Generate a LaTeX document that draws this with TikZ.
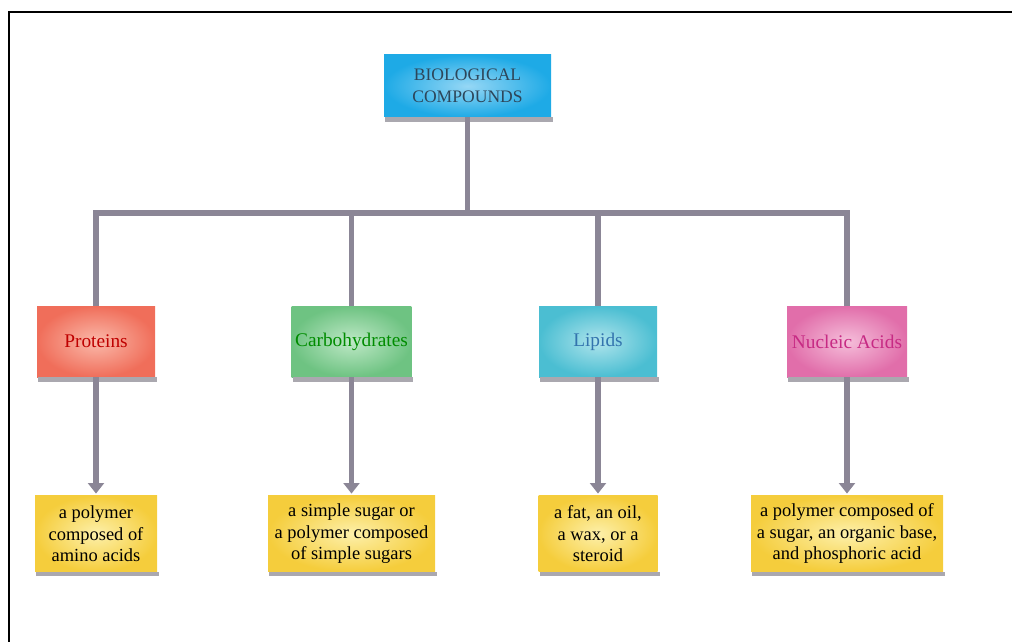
\documentclass[tikz,border=0pt]{standalone}
\usepackage{fontspec}
\setmainfont{Liberation Serif}
\usetikzlibrary{positioning,arrows.meta}

\definecolor{pipegray}{RGB}{139,134,150}
\definecolor{shadowgray}{RGB}{170,168,175}
\definecolor{topblue}{RGB}{30,170,230}
\definecolor{topblueL}{RGB}{150,215,245}
\definecolor{biotext}{RGB}{45,70,90}
\definecolor{protred}{RGB}{240,110,90}
\definecolor{protredL}{RGB}{250,185,170}
\definecolor{carbgreen}{RGB}{110,195,130}
\definecolor{carbgreenL}{RGB}{190,232,198}
\definecolor{lipcyan}{RGB}{75,190,210}
\definecolor{lipcyanL}{RGB}{175,228,236}
\definecolor{nucpink}{RGB}{225,110,170}
\definecolor{nucpinkL}{RGB}{245,190,218}
\definecolor{descyel}{RGB}{245,205,60}
\definecolor{descyelL}{RGB}{253,240,170}

\begin{document}
\begin{tikzpicture}[
   box/.style={rectangle, inner sep=2pt, align=center},
   catbox/.style={box, minimum width=2.36cm, minimum height=1.42cm,
      font=\fontsize{11}{13}\selectfont},
   descbox/.style={box, minimum height=1.52cm,
      inner color=descyelL, outer color=descyel,
      font=\fontsize{10.5}{12.2}\selectfont},
   pipe/.style={draw=pipegray, line width=3.4pt},
   drop/.style={pipe, -{Triangle[width=9pt,length=6pt]}, shorten >=1pt}
]

   \useasboundingbox (0,0) rectangle (20.24,12.84);
   % frame
   \draw[line width=1.6pt] (20.24,12.6) -- (0.18,12.6) -- (0.18,0);

   % top node
   \node[box, minimum width=3.34cm, minimum height=1.24cm,
      inner color=topblueL, outer color=topblue,
      text=biotext, font=\fontsize{10}{12.5}\selectfont]
      (bio) at (9.35,11.12) {BIOLOGICAL\\COMPOUNDS};

   \coordinate (bar) at (0,8.58);

   % the four classes
   \node[catbox, inner color=protredL, outer color=protred,
      text=red!75!black] (prot) at (1.92,6.01) {Proteins};
   \node[catbox, inner color=carbgreenL, outer color=carbgreen,
      text=green!55!black] (carb) at (7.03,6.01) {Carbohydrates};
   \node[catbox, inner color=lipcyanL, outer color=lipcyan,
      text=cyan!60!blue!80!black] (lip) at (11.96,6.01) {Lipids};
   \node[catbox, inner color=nucpinkL, outer color=nucpink,
      text=magenta!80!black, minimum width=2.4cm] (nuc) at (16.94,6.01) {Nucleic Acids};

   % descriptions
   \node[descbox, minimum width=2.44cm, below=2.36cm of prot] (protd)
      {a polymer\\composed of\\amino acids};
   \node[descbox, minimum width=3.34cm, below=2.36cm of carb] (carbd)
      {a simple sugar or\\a polymer composed\\of simple sugars};
   \node[descbox, minimum width=2.38cm, below=2.36cm of lip] (lipd)
      {a fat, an oil,\\a wax, or a\\steroid};
   \node[descbox, minimum width=3.84cm, below=2.36cm of nuc] (nucd)
      {a polymer composed of\\a sugar, an organic base,\\and phosphoric acid};

   % shadow under every box
   \foreach \n in {bio,prot,carb,lip,nuc,protd,carbd,lipd,nucd}
      \fill[shadowgray] ([xshift=1pt]\n.south west) rectangle ([xshift=1pt,yshift=-2.5pt]\n.south east);

   % connectors
   \foreach \c in {prot,carb,lip,nuc}{
      \draw[pipe] (bio.south) -- (bio.south |- bar) -| (\c.north);
      \draw[drop] (\c.south) -- (\c d.north);
   }

\end{tikzpicture}
\end{document}
